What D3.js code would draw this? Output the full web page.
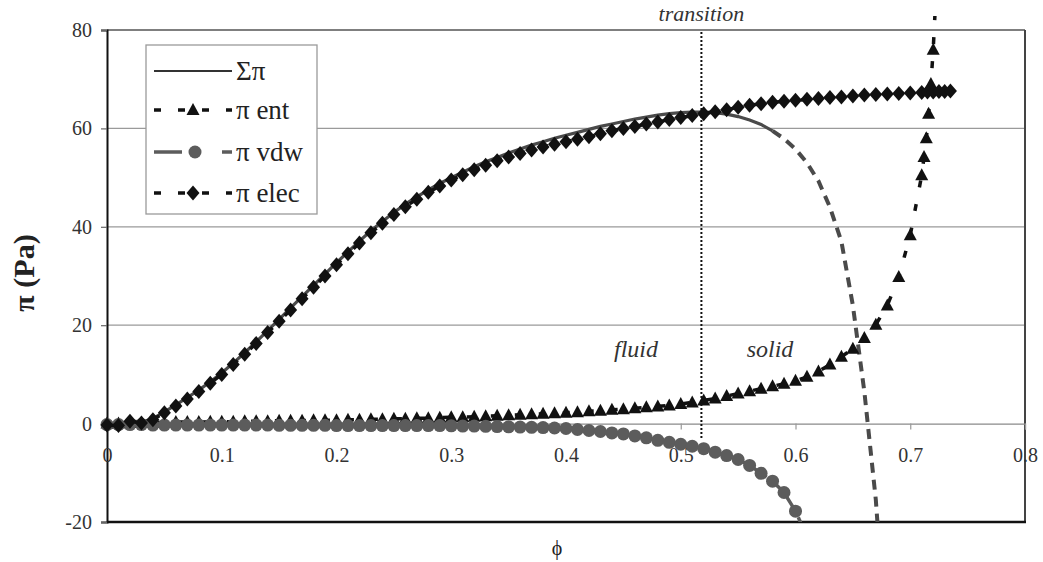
<!DOCTYPE html>
<html>
<head>
<meta charset="utf-8">
<script src="https://cdn.jsdelivr.net/npm/d3@7"></script>
<style>
  body { margin: 0; background: #fff; }
  svg { display: block; }
</style>
</head>
<body>
<svg id="chart" width="1043" height="562"></svg>
<script>
// Volume fraction grid (0 .. 0.70, step 0.01)
const phi = [0.00,0.01,0.02,0.03,0.04,0.05,0.06,0.07,0.08,0.09,
             0.10,0.11,0.12,0.13,0.14,0.15,0.16,0.17,0.18,0.19,
             0.20,0.21,0.22,0.23,0.24,0.25,0.26,0.27,0.28,0.29,
             0.30,0.31,0.32,0.33,0.34,0.35,0.36,0.37,0.38,0.39,
             0.40,0.41,0.42,0.43,0.44,0.45,0.46,0.47,0.48,0.49,
             0.50,0.51,0.52,0.53,0.54,0.55,0.56,0.57,0.58,0.59,
             0.60,0.61,0.62,0.63,0.64,0.65,0.66,0.67,0.68,0.69,
             0.70];

// Total pressure Σπ (Pa), on phi[0..68]
const piSum = [-0.3,-0.4,0.6,0.3,1.0,2.4,3.8,5.3,6.8,8.5,
               10.3,12.3,14.4,16.6,18.9,21.2,23.5,25.8,28.1,30.4,
               32.7,34.9,37.1,39.2,41.1,42.9,44.6,46.1,47.5,48.8,
               50.0,51.1,52.2,53.2,54.1,55.0,55.8,56.6,57.3,58.0,
               58.6,59.2,59.8,60.4,60.9,61.4,61.9,62.3,62.7,63.0,
               63.2,63.3,63.3,63.2,62.9,62.4,61.7,60.8,59.5,57.9,
               55.8,53.0,49.3,44.0,37.0,24.0,6.5,-15.5,-48.0];

// Entropic term π ent (Pa), on phi[0..70] plus a finer tail
const piEnt = [0.0,0.0,0.1,0.1,0.2,0.2,0.3,0.3,0.3,0.4,
               0.4,0.4,0.5,0.5,0.5,0.6,0.6,0.6,0.7,0.7,
               0.7,0.8,0.8,0.9,0.9,1.0,1.0,1.1,1.1,1.2,
               1.3,1.3,1.4,1.5,1.6,1.7,1.8,1.9,2.0,2.1,
               2.2,2.3,2.5,2.6,2.8,2.9,3.1,3.3,3.5,3.7,
               4.0,4.3,4.7,5.1,5.6,6.1,6.6,7.1,7.6,8.1,
               8.7,9.5,10.6,12.0,13.6,15.2,17.4,20.1,24.0,29.8,
               38.3];
const phiEntTail = [0.71,0.712,0.714,0.716,0.718,0.72,0.723];
const piEntTail  = [50.5,54.2,58.0,63.0,69.0,76.0,90.0];

// Van der Waals term π vdw (Pa), on phi[0..61]
const piVdw = [-0.2,-0.2,-0.2,-0.2,-0.3,-0.3,-0.3,-0.3,-0.3,-0.3,
               -0.3,-0.3,-0.3,-0.3,-0.3,-0.35,-0.35,-0.35,-0.35,-0.35,
               -0.4,-0.4,-0.4,-0.4,-0.4,-0.4,-0.4,-0.4,-0.4,-0.4,
               -0.45,-0.5,-0.5,-0.55,-0.6,-0.65,-0.7,-0.75,-0.8,-0.9,
               -1.0,-1.2,-1.4,-1.6,-1.9,-2.1,-2.5,-2.9,-3.4,-3.8,
               -4.2,-4.6,-5.1,-5.8,-6.5,-7.3,-8.5,-10.1,-11.7,-14.0,
               -17.8,-23.0];

// Electrostatic term π elec (Pa), on phi[0..70] plus a finer tail
const piElec = [-0.3,-0.4,0.5,0.1,0.8,2.2,3.6,5.0,6.5,8.2,
                10.0,12.0,14.1,16.3,18.5,20.8,23.1,25.4,27.7,30.0,
                32.3,34.5,36.7,38.8,40.7,42.5,44.1,45.6,47.0,48.3,
                49.5,50.6,51.6,52.5,53.4,54.2,54.9,55.6,56.2,56.8,
                57.3,57.8,58.3,58.9,59.5,60.0,60.4,60.9,61.3,61.8,
                62.2,62.6,63.0,63.4,63.8,64.3,64.7,65.0,65.3,65.5,
                65.7,65.9,66.1,66.3,66.4,66.6,66.8,66.9,67.0,67.1,
                67.2];
const phiElecTail = [0.71,0.715,0.72,0.725,0.73,0.735];
const piElecTail  = [67.3,67.4,67.4,67.5,67.5,67.6];

const phiTransition = 0.518;
const xTicks = [0,0.1,0.2,0.3,0.4,0.5,0.6,0.7,0.8];
const xTickLabels = ["0","0.1","0.2","0.3","0.4","0.5","0.6","0.7","0.8"];
const yTicks = [-20,0,20,40,60,80];
const yTickLabels = ["-20","0","20","40","60","80"];
const seriesNames = ["Σπ","π ent","π vdw","π elec"];

// ---------------------------------------------------------------
const SERIF = '"Liberation Serif"';
const svg = d3.select("#chart");
const L = 107, R = 1025, T = 30, B = 522;
const x = d3.scaleLinear().domain([0, 0.8]).range([L, R]);
const y = d3.scaleLinear().domain([-20, 80]).range([B, T]);

const pairs = (xs, ys) => ys.map((v, i) => [xs[i], v]);
const sumData  = pairs(phi, piSum);
const entData  = pairs(phi, piEnt).concat(pairs(phiEntTail, piEntTail));
const vdwData  = pairs(phi, piVdw);
const elecData = pairs(phi, piElec).concat(pairs(phiElecTail, piElecTail));

svg.append("defs").append("clipPath").attr("id", "plotClip")
  .append("rect").attr("x", L - 14).attr("y", T - 14)
  .attr("width", R - L + 14).attr("height", B - T + 14);

// horizontal gridlines
svg.append("g").selectAll("line").data([20, 40, 60]).join("line")
  .attr("x1", L).attr("x2", R)
  .attr("y1", d => y(d)).attr("y2", d => y(d))
  .attr("stroke", "#9a9a9a").attr("stroke-width", 1.2);

// frame: top, right, bottom
svg.append("line").attr("x1", L).attr("x2", R).attr("y1", T).attr("y2", T)
  .attr("stroke", "#555").attr("stroke-width", 1.5);
svg.append("line").attr("x1", R).attr("x2", R).attr("y1", T).attr("y2", B)
  .attr("stroke", "#444").attr("stroke-width", 2);
svg.append("line").attr("x1", L).attr("x2", R + 1).attr("y1", B).attr("y2", B)
  .attr("stroke", "#111").attr("stroke-width", 2.6);

// y axis
const yAxis = svg.append("g").attr("transform", `translate(${L},0)`)
  .call(d3.axisLeft(y).tickValues(yTicks).tickSize(6).tickPadding(9)
        .tickFormat((d, i) => yTickLabels[i]));
yAxis.select(".domain").attr("stroke", "#111").attr("stroke-width", 2);
yAxis.selectAll(".tick line").attr("stroke", "#666").attr("stroke-width", 1.2);
yAxis.selectAll(".tick text").attr("font-size", 20).attr("fill", "#333")
  .style("font-family", SERIF);

// x axis on the zero line
const xAxis = svg.append("g").attr("transform", `translate(0,${y(0)})`)
  .call(d3.axisBottom(x).tickValues(xTicks).tickSize(6).tickPadding(18)
        .tickFormat((d, i) => xTickLabels[i]));
xAxis.select(".domain").attr("stroke", "#8a8a8a").attr("stroke-width", 1.2);
xAxis.selectAll(".tick line").attr("stroke", "#999").attr("stroke-width", 1.2);
xAxis.selectAll(".tick text").attr("font-size", 20).attr("fill", "#333")
  .style("font-family", SERIF);

// axis titles
svg.append("text").attr("transform", `translate(34,${273}) rotate(-90)`)
  .attr("text-anchor", "middle").attr("font-size", 30).attr("font-weight", "bold")
  .attr("fill", "#222").style("font-family", SERIF).text("π (Pa)");
svg.append("text").attr("x", 557).attr("y", 555).attr("text-anchor", "middle")
  .attr("font-size", 20).attr("fill", "#222").style("font-family", SERIF).text("ϕ");

// transition marker and phase labels
svg.append("line").attr("x1", x(phiTransition)).attr("x2", x(phiTransition))
  .attr("y1", T + 2).attr("y2", y(0) + 16)
  .attr("stroke", "#111").attr("stroke-width", 2).attr("stroke-dasharray", "2,2");
svg.append("text").attr("x", x(phiTransition)).attr("y", 21).attr("text-anchor", "middle")
  .attr("font-size", 22).attr("font-style", "italic").attr("fill", "#333")
  .style("font-family", SERIF).text("transition");
svg.append("text").attr("x", 636).attr("y", 357).attr("text-anchor", "middle")
  .attr("font-size", 24).attr("font-style", "italic").attr("fill", "#333")
  .style("font-family", SERIF).text("fluid");
svg.append("text").attr("x", 770).attr("y", 357).attr("text-anchor", "middle")
  .attr("font-size", 24).attr("font-style", "italic").attr("fill", "#333")
  .style("font-family", SERIF).text("solid");

// marker shapes
const triPath  = "M0,-7L6.5,5L-6.5,5Z";
const diaPath  = "M0,-7.5L6.5,0L0,7.5L-6.5,0Z";
const circR = 6.5;
const line = d3.line().x(d => x(d[0])).y(d => y(d[1]));

const plot = svg.append("g").attr("clip-path", "url(#plotClip)");

// Σπ : solid, breaking into dashes on the steep drop
const sumSplit = 0.58;
plot.append("path").datum(sumData.filter(d => d[0] <= sumSplit + 1e-9))
  .attr("d", line).attr("fill", "none").attr("stroke", "#4a4a4a").attr("stroke-width", 3.2);
plot.append("path").datum(sumData.filter(d => d[0] >= sumSplit - 1e-9))
  .attr("d", line).attr("fill", "none").attr("stroke", "#4a4a4a").attr("stroke-width", 4)
  .attr("stroke-dasharray", "10,7");

// π ent
plot.append("path").datum(entData).attr("d", line).attr("fill", "none")
  .attr("stroke", "#111").attr("stroke-width", 3.5).attr("stroke-dasharray", "7,17");
plot.append("g").selectAll("path").data(entData).join("path")
  .attr("d", triPath).attr("transform", d => `translate(${x(d[0])},${y(d[1])})`)
  .attr("fill", "#111");

// π vdw
plot.append("path").datum(vdwData).attr("d", line).attr("fill", "none")
  .attr("stroke", "#5c5c5c").attr("stroke-width", 3.5).attr("stroke-dasharray", "28,12");
plot.append("g").selectAll("circle").data(vdwData).join("circle")
  .attr("cx", d => x(d[0])).attr("cy", d => y(d[1])).attr("r", circR)
  .attr("fill", "#5c5c5c");

// π elec
plot.append("path").datum(elecData).attr("d", line).attr("fill", "none")
  .attr("stroke", "#111").attr("stroke-width", 3.5).attr("stroke-dasharray", "7,17");
plot.append("g").selectAll("path").data(elecData).join("path")
  .attr("d", diaPath).attr("transform", d => `translate(${x(d[0])},${y(d[1])})`)
  .attr("fill", "#111");

// legend
const lg = svg.append("g");
lg.append("rect").attr("x", 146).attr("y", 45).attr("width", 171).attr("height", 169)
  .attr("fill", "#fff").attr("stroke", "#9a9a9a").attr("stroke-width", 1.3);
const rows = [71, 110, 152, 193];
const styles = [
  { stroke: "#333", width: 2,   dash: null,   marker: null },
  { stroke: "#111", width: 3.5, dash: "7,17", marker: "tri" },
  { stroke: "#5c5c5c", width: 3.5, dash: "28,40", marker: "circle" },
  { stroke: "#111", width: 3.5, dash: "7,17", marker: "dia" }
];
seriesNames.forEach((name, i) => {
  const yy = rows[i], st = styles[i];
  const l = lg.append("line").attr("x1", 154).attr("x2", 232).attr("y1", yy).attr("y2", yy)
    .attr("stroke", st.stroke).attr("stroke-width", st.width);
  if (st.dash) l.attr("stroke-dasharray", st.dash);
  if (st.marker === "tri") lg.append("path").attr("d", triPath).attr("transform", `translate(193,${yy})`).attr("fill", "#111");
  if (st.marker === "dia") lg.append("path").attr("d", diaPath).attr("transform", `translate(193,${yy})`).attr("fill", "#111");
  if (st.marker === "circle") lg.append("circle").attr("cx", 195).attr("cy", yy).attr("r", circR).attr("fill", "#5c5c5c");
  lg.append("text").attr("x", 236).attr("y", yy).attr("dy", "0.33em")
    .attr("font-size", 27).attr("fill", "#222").style("font-family", SERIF).text(name);
});
</script>
</body>
</html>
